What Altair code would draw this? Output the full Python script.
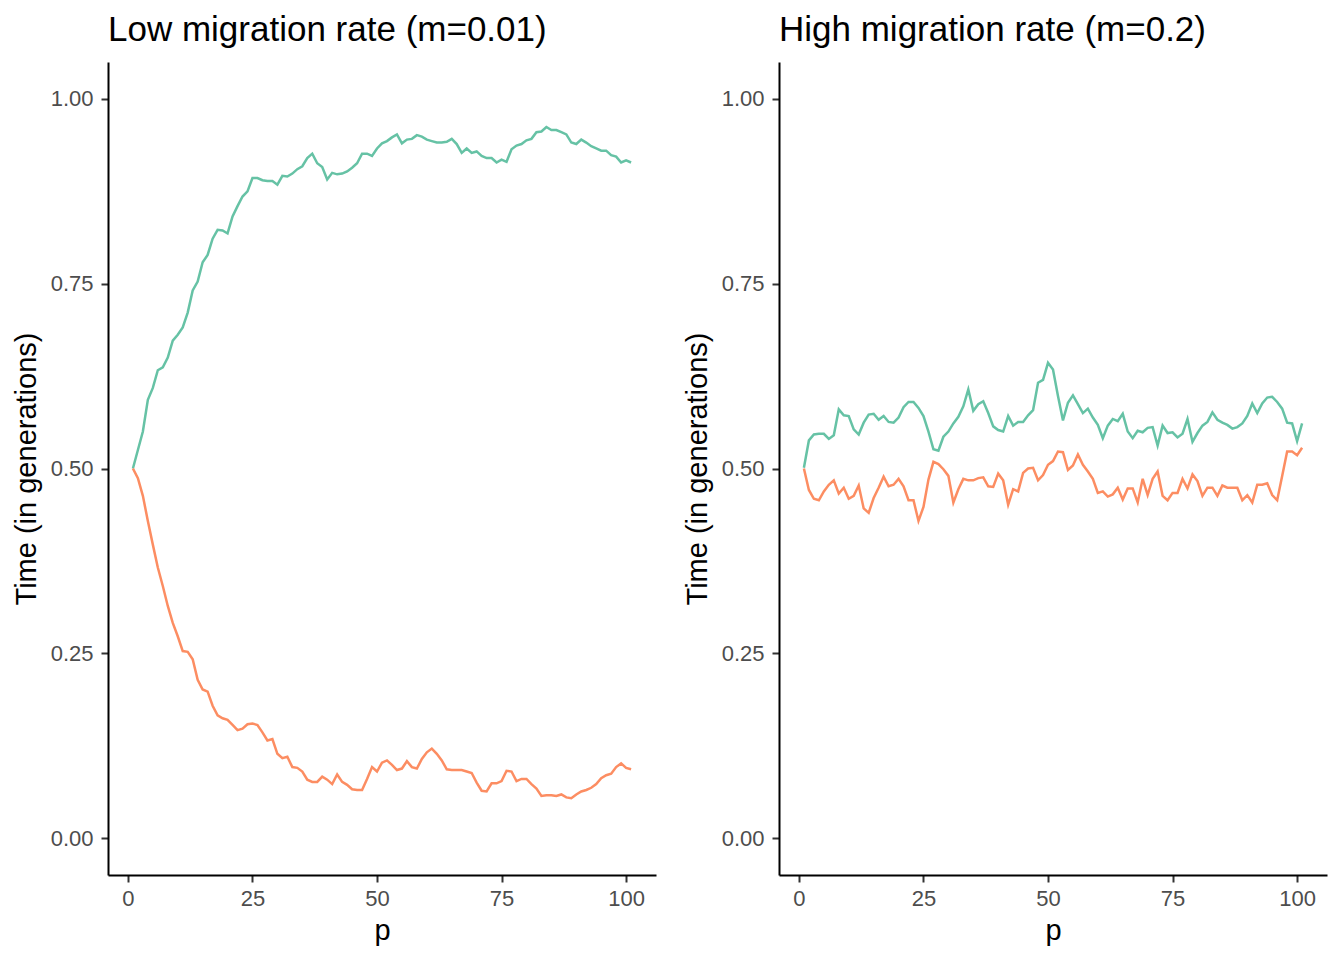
import altair as alt
import pandas as pd

p_values = list(range(1, 102))

low_a = [0.500, 0.525, 0.550, 0.593, 0.609, 0.633, 0.637, 0.650, 0.673, 0.681,
         0.691, 0.711, 0.741, 0.753, 0.779, 0.789, 0.811, 0.823, 0.822, 0.818,
         0.841, 0.855, 0.868, 0.875, 0.893, 0.893, 0.890, 0.889, 0.889, 0.884,
         0.896, 0.895, 0.899, 0.905, 0.909, 0.920, 0.926, 0.913, 0.908, 0.891,
         0.900, 0.898, 0.899, 0.902, 0.907, 0.913, 0.926, 0.926, 0.923, 0.933,
         0.940, 0.943, 0.948, 0.952, 0.940, 0.945, 0.946, 0.951, 0.949, 0.945,
         0.943, 0.941, 0.941, 0.942, 0.946, 0.939, 0.927, 0.933, 0.927, 0.929,
         0.923, 0.920, 0.920, 0.914, 0.918, 0.915, 0.932, 0.937, 0.939, 0.944,
         0.946, 0.955, 0.956, 0.962, 0.958, 0.958, 0.955, 0.952, 0.941, 0.939,
         0.945, 0.941, 0.936, 0.933, 0.930, 0.930, 0.924, 0.922, 0.914, 0.917,
         0.914]

low_b = [0.500, 0.487, 0.463, 0.429, 0.397, 0.366, 0.341, 0.314, 0.291, 0.273,
         0.253, 0.252, 0.242, 0.214, 0.201, 0.198, 0.179, 0.166, 0.162, 0.160,
         0.153, 0.146, 0.148, 0.154, 0.155, 0.153, 0.143, 0.132, 0.134, 0.114,
         0.108, 0.110, 0.096, 0.095, 0.090, 0.079, 0.076, 0.076, 0.083, 0.079,
         0.073, 0.086, 0.076, 0.072, 0.066, 0.065, 0.065, 0.080, 0.096, 0.090,
         0.102, 0.105, 0.099, 0.092, 0.094, 0.104, 0.096, 0.094, 0.107, 0.116,
         0.121, 0.114, 0.105, 0.093, 0.092, 0.092, 0.092, 0.090, 0.088, 0.075,
         0.064, 0.063, 0.074, 0.074, 0.077, 0.091, 0.090, 0.077, 0.080, 0.080,
         0.073, 0.067, 0.057, 0.058, 0.058, 0.057, 0.059, 0.055, 0.054, 0.059,
         0.063, 0.065, 0.068, 0.073, 0.081, 0.085, 0.087, 0.096, 0.101, 0.095,
         0.093]

high_a = [0.501, 0.538, 0.546, 0.547, 0.547, 0.540, 0.545, 0.580, 0.572, 0.571,
          0.553, 0.546, 0.562, 0.573, 0.574, 0.566, 0.571, 0.563, 0.562, 0.569,
          0.583, 0.590, 0.590, 0.582, 0.571, 0.550, 0.526, 0.524, 0.543, 0.550,
          0.561, 0.570, 0.584, 0.607, 0.578, 0.587, 0.591, 0.575, 0.557, 0.552,
          0.550, 0.571, 0.558, 0.563, 0.563, 0.572, 0.579, 0.616, 0.620, 0.643,
          0.634, 0.598, 0.565, 0.589, 0.599, 0.587, 0.575, 0.581, 0.569, 0.559,
          0.541, 0.558, 0.567, 0.564, 0.574, 0.550, 0.541, 0.551, 0.549, 0.555,
          0.556, 0.531, 0.558, 0.548, 0.549, 0.542, 0.547, 0.567, 0.536, 0.548,
          0.558, 0.563, 0.576, 0.566, 0.562, 0.559, 0.554, 0.556, 0.561, 0.571,
          0.588, 0.575, 0.588, 0.596, 0.597, 0.590, 0.581, 0.562, 0.561, 0.537,
          0.561]

high_b = [0.500, 0.471, 0.459, 0.457, 0.469, 0.478, 0.484, 0.466, 0.474, 0.459,
          0.463, 0.477, 0.446, 0.440, 0.460, 0.474, 0.489, 0.476, 0.478, 0.486,
          0.476, 0.457, 0.457, 0.429, 0.448, 0.485, 0.509, 0.506, 0.499, 0.490,
          0.454, 0.472, 0.486, 0.484, 0.484, 0.487, 0.488, 0.476, 0.475, 0.493,
          0.484, 0.451, 0.472, 0.469, 0.494, 0.500, 0.501, 0.484, 0.491, 0.505,
          0.510, 0.523, 0.522, 0.498, 0.504, 0.519, 0.505, 0.496, 0.486, 0.467,
          0.469, 0.462, 0.465, 0.474, 0.458, 0.473, 0.473, 0.454, 0.486, 0.464,
          0.486, 0.496, 0.463, 0.457, 0.467, 0.467, 0.486, 0.473, 0.492, 0.483,
          0.463, 0.474, 0.474, 0.463, 0.477, 0.474, 0.474, 0.474, 0.457, 0.464,
          0.454, 0.478, 0.478, 0.480, 0.464, 0.457, 0.490, 0.523, 0.523, 0.518,
          0.528]

series_names = ["A", "B"]
panel_titles = ["Low migration rate (m=0.01)", "High migration rate (m=0.2)"]
x_ticks = [0, 25, 50, 75, 100]
y_ticks = [0.0, 0.25, 0.5, 0.75, 1.0]

FONT = "Liberation Sans"


def make_df(a, b):
    return pd.DataFrame({
        "p": p_values + p_values,
        "value": a + b,
        "series": [series_names[0]] * len(a) + [series_names[1]] * len(b),
    })


def panel(df, title):
    return alt.Chart(df).mark_line(strokeWidth=2.5).encode(
        x=alt.X("p:Q",
                scale=alt.Scale(domain=[-4, 106], nice=False, zero=False),
                axis=alt.Axis(values=x_ticks, title="p", format="d", labelPadding=6)),
        y=alt.Y("value:Q",
                scale=alt.Scale(domain=[-0.05, 1.05], nice=False, zero=False),
                axis=alt.Axis(values=y_ticks, format=".2f", title="Time (in generations)",
                              labelPadding=8, titlePadding=9)),
        color=alt.Color("series:N",
                        scale=alt.Scale(domain=series_names, range=["#66C2A5", "#FC8D62"]),
                        legend=None),
    ).properties(
        width=548, height=813,
        title=alt.TitleParams(text=title, anchor="start", frame="group", fontSize=35,
                              font=FONT, fontWeight="normal", color="black", offset=14),
    )


left = panel(make_df(low_a, low_b), panel_titles[0])
right = panel(make_df(high_a, high_b), panel_titles[1])

chart = alt.hconcat(left, right, spacing=27).properties(
    padding={"left": 4, "top": 5, "right": 5, "bottom": 5}
).configure_view(stroke=None).configure_axis(
    grid=False,
    domainColor="black",
    domainWidth=2,
    tickColor="#333333",
    tickWidth=2,
    tickSize=7,
    labelFont=FONT,
    labelFontSize=22,
    labelColor="#4D4D4D",
    titleFont=FONT,
    titleFontSize=29,
    titleFontWeight="normal",
    titleColor="black",
    titlePadding=7,
)

chart.save("out.html", embed_options={"renderer": "svg", "actions": False})
